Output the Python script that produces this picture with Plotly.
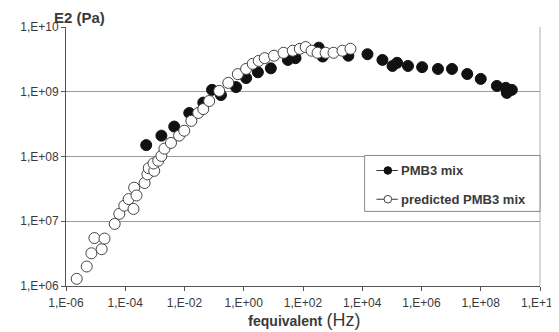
import plotly.graph_objects as go

# ---- data ----
pmb3_f = [5.1e-4, 1.66e-3, 4.5e-3, 1.45e-2, 4.3e-2, 8.5e-2, 0.17, 0.55, 1.2, 3.0,
          8.2, 31, 56, 340, 460, 3.4e3, 1.5e4, 4.8e4, 1.05e5, 1.5e5,
          3.5e5, 1.05e6, 3.6e6, 1.07e7, 3.5e7, 1.0e8, 3.5e8, 7.0e8, 7.6e8, 1.12e9]
pmb3_E = [1.5e8, 2.1e8, 2.9e8, 4.7e8, 6.8e8, 1.07e9, 8.9e8, 1.18e9, 1.63e9, 2.0e9,
          2.3e9, 3.1e9, 3.3e9, 4.8e9, 3.5e9, 3.6e9, 3.8e9, 3.1e9, 2.5e9, 2.8e9,
          2.5e9, 2.4e9, 2.25e9, 2.25e9, 1.88e9, 1.58e9, 1.23e9, 1.15e9, 9.6e8, 1.07e9]

pred_f = [2.3e-6, 5.0e-6, 7.2e-6, 9.1e-6, 1.6e-5, 2.0e-5, 4.4e-5, 6.3e-5, 9.3e-5, 1.3e-4,
          1.9e-4, 2.0e-4, 2.4e-4, 4.5e-4, 5.6e-4, 6.2e-4, 9.5e-4, 9.0e-4, 1.3e-3, 1.66e-3,
          2.1e-3, 3.5e-3, 6.6e-3, 9.8e-3, 1.7e-2, 2.9e-2, 4.3e-2, 6.8e-2, 0.148, 0.30,
          0.63, 1.2, 2.0, 3.2, 5.1, 10.5, 22, 45, 78, 123,
          195, 310, 580, 1070, 2150, 4000]
pred_E = [1.29e6, 2.0e6, 3.2e6, 5.5e6, 3.7e6, 5.4e6, 9.1e6, 1.3e7, 1.74e7, 2.2e7,
          1.55e7, 3.3e7, 2.5e7, 3.9e7, 5.3e7, 6.6e7, 6.0e7, 7.8e7, 8.6e7, 1.02e8,
          1.32e8, 1.62e8, 2.1e8, 2.5e8, 3.55e8, 4.7e8, 5.4e8, 7.2e8, 1.03e9, 1.37e9,
          1.87e9, 2.25e9, 2.7e9, 3.0e9, 3.3e9, 3.6e9, 4.0e9, 4.3e9, 4.6e9, 4.9e9,
          4.3e9, 4.0e9, 4.0e9, 4.0e9, 4.3e9, 4.6e9]

x_tickvals = [1e-6, 1e-4, 1e-2, 1e0, 1e2, 1e4, 1e6, 1e8, 1e10]
x_ticktext = ["1,E-06", "1,E-04", "1,E-02", "1,E+00", "1,E+02", "1,E+04", "1,E+06", "1,E+08", "1,E+10"]
y_tickvals = [1e6, 1e7, 1e8, 1e9, 1e10]
y_ticktext = ["1,E+06", "1,E+07", "1,E+08", "1,E+09", "1,E+10"]

series_names = ["PMB3 mix", "predicted PMB3 mix"]

FONT = "Liberation Sans, Arial, sans-serif"
TXT = "#3a3a3a"

fig = go.Figure()
fig.add_trace(go.Scatter(x=pmb3_f, y=pmb3_E, mode="markers", name=series_names[0],
                         marker=dict(size=11, color="#111111", line=dict(color="#111111", width=1)),
                         showlegend=False))
fig.add_trace(go.Scatter(x=pred_f, y=pred_E, mode="markers", name=series_names[1],
                         marker=dict(size=11, color="white", line=dict(color="#444444", width=1)),
                         showlegend=False))

# page has an 8px body margin, so the figure is 8px smaller than the window
fig.update_layout(
    width=551, height=324,
    margin=dict(l=56, r=19, t=18, b=46),
    paper_bgcolor="white", plot_bgcolor="white",
    font=dict(family=FONT, size=12, color=TXT),
    showlegend=False,
)
# last x tick label sits on the right edge; it is drawn as an annotation below
fig.update_xaxes(type="log", range=[-6, 10], tickvals=x_tickvals,
                 ticktext=x_ticktext[:-1] + [""],
                 showgrid=False, zeroline=False, showline=True, linecolor="#555555", linewidth=1,
                 ticks="outside", ticklen=4, tickcolor="#555555", ticklabelstandoff=2,
                 tickfont=dict(family=FONT, size=12, color=TXT))
fig.update_yaxes(type="log", range=[6, 10], tickvals=y_tickvals, ticktext=y_ticktext,
                 showgrid=True, gridcolor="#9a9a9a", gridwidth=1, zeroline=False,
                 showline=True, linecolor="#555555", linewidth=1,
                 ticks="outside", ticklen=4, tickcolor="#555555",
                 tickfont=dict(family=FONT, size=12, color=TXT))
fig.add_annotation(xref="paper", yref="paper", x=1.0, y=-0.067, xanchor="center", yanchor="middle",
                   showarrow=False, text=x_ticktext[-1], font=dict(family=FONT, size=12, color=TXT))

# right border of plot area
fig.add_shape(type="line", xref="paper", yref="paper", x0=1, x1=1, y0=0, y1=1,
              line=dict(color="#b0b0b0", width=1))

# ---- manual legend ----
lx0, lx1, ly0, ly1 = 0.630, 1.0, 0.288, 0.504
fig.add_shape(type="rect", xref="paper", yref="paper", x0=lx0, x1=lx1, y0=ly0, y1=ly1,
              line=dict(color="#888888", width=1), fillcolor="white", layer="above")
item_y = [0.446, 0.335]
mark_fill = ["#111111", "white"]
mark_line = ["#111111", "#444444"]
for i in range(2):
    fig.add_shape(type="line", xref="paper", yref="paper", x0=0.655, x1=0.700,
                  y0=item_y[i], y1=item_y[i], line=dict(color="#333333", width=1), layer="above")
    fig.add_shape(type="circle", xref="paper", yref="paper",
                  xsizemode="pixel", ysizemode="pixel", xanchor=0.679, yanchor=item_y[i],
                  x0=-3.8, x1=3.8, y0=-3.8, y1=3.8,
                  fillcolor=mark_fill[i], line=dict(color=mark_line[i], width=1), layer="above")
    fig.add_annotation(xref="paper", yref="paper", x=0.703, y=item_y[i], xanchor="left",
                       yanchor="middle", showarrow=False, text="<b>%s</b>" % series_names[i],
                       font=dict(family=FONT, size=13, color=TXT))

# axis titles
fig.add_annotation(xref="paper", yref="paper", x=-0.03, y=1.035, xanchor="left", yanchor="middle",
                   showarrow=False, text="<b>E2 (Pa)</b>", font=dict(family=FONT, size=15, color=TXT))
fig.add_annotation(xref="paper", yref="paper", x=0.502, y=-0.131, xanchor="center", yanchor="middle",
                   showarrow=False,
                   text="<b>f<span style='font-size:14px'>equivalent</span></b> <span style='font-size:18px'>(Hz)</span>",
                   font=dict(family=FONT, size=15, color=TXT))

fig.write_html("out.html")
